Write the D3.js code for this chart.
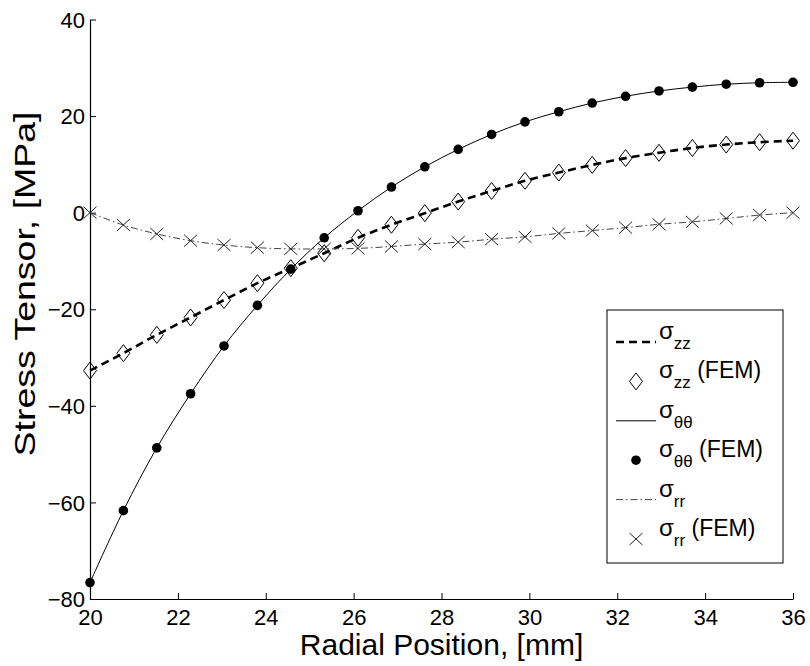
<!DOCTYPE html>
<html lang="en">
<head>
  <meta charset="UTF-8">
  <title>Stress Tensor</title>
  <script src="https://d3js.org/d3.v7.min.js"></script>
  <style>
    body { margin: 0; background: #fff; }
    svg text { font-family: "Liberation Sans", Arial, Helvetica, sans-serif; fill: #000; }
  </style>
</head>
<body>
  <svg id="chart" width="810" height="666"></svg>

  <script>
    // data
    const radius = [20.00, 20.76, 21.52, 22.29, 23.05, 23.81, 24.57, 25.33, 26.10, 26.86, 27.62,
                    28.38, 29.14, 29.90, 30.67, 31.43, 32.19, 32.95, 33.71, 34.48, 35.24, 36.00];
    const sigmaZZ = [-32.7, -29.1, -25.3, -21.7, -18.1, -14.6, -11.5, -8.4, -5.2, -2.5, -0.1,
                     2.3, 4.5, 6.6, 8.3, 9.9, 11.3, 12.4, 13.4, 14.1, 14.6, 14.9];
    const sigmaTT = [-76.6, -61.7, -48.7, -37.5, -27.6, -19.2, -11.7, -5.2, 0.4, 5.3, 9.5,
                     13.1, 16.2, 18.8, 20.9, 22.7, 24.1, 25.2, 26.0, 26.6, 26.9, 27.0];
    const sigmaRR = [0.0, -2.55, -4.4, -5.8, -6.7, -7.25, -7.5, -7.5, -7.4, -7.0, -6.5,
                     -6.1, -5.5, -5.0, -4.3, -3.7, -3.1, -2.4, -1.9, -1.2, -0.5, 0.0];
    const xTicks = [20, 22, 24, 26, 28, 30, 32, 34, 36];
    const yTicks = [-80, -60, -40, -20, 0, 20, 40];

    const svg = d3.select("#chart");
    const plotL = 90, plotR = 793, plotT = 19.5, plotB = 599;

    const x = d3.scaleLinear().domain([20, 36]).range([plotL, plotR]);
    const y = d3.scaleLinear().domain([-80, 40]).range([plotB, plotT]);

    // axes (ticks pointing inward, no box)
    const xAxis = svg.append("g")
      .attr("transform", `translate(0,${plotB})`)
      .call(d3.axisBottom(x).tickValues(xTicks).tickSizeInner(-6).tickSizeOuter(0).tickPadding(10));
    const yAxis = svg.append("g")
      .attr("transform", `translate(${plotL},0)`)
      .call(d3.axisLeft(y).tickValues(yTicks).tickSizeInner(-6).tickSizeOuter(0).tickPadding(5)
        .tickFormat(d => d < 0 ? "\u2212" + Math.abs(d) : d));

    [xAxis, yAxis].forEach(g => {
      g.select(".domain").attr("stroke", "#000").attr("stroke-width", 1.2);
      g.selectAll(".tick line").attr("stroke", "#000").attr("stroke-width", 1);
      g.selectAll(".tick text").attr("font-size", 22).attr("font-family", "Liberation Sans, Arial, sans-serif").attr("fill", "#000");
    });
    xAxis.selectAll(".tick text").attr("y", 10).attr("dy", "0.71em");
    yAxis.selectAll(".tick text").attr("dy", "0.35em");

    // axis titles
    svg.append("text")
      .attr("x", (plotL + plotR) / 2).attr("y", 655)
      .attr("text-anchor", "middle").attr("font-size", 30)
      .text("Radial Position, [mm]");
    svg.append("text")
      .attr("transform", "translate(35,284) rotate(-90)")
      .attr("text-anchor", "middle").attr("font-size", 30)
      .attr("textLength", 345).attr("lengthAdjust", "spacingAndGlyphs")
      .text("Stress Tensor, [MPa]");

    const pts = vals => radius.map((r, i) => [r, vals[i]]);
    const line = d3.line().x(d => x(d[0])).y(d => y(d[1])).curve(d3.curveCatmullRom);

    const styles = {
      zz: { stroke: "#000", width: 2.6, dash: "8,5" },
      tt: { stroke: "#000", width: 1, dash: null },
      rr: { stroke: "#444", width: 1, dash: "7,3,1.5,3" }
    };

    function drawLine(vals, s) {
      svg.append("path")
        .datum(pts(vals))
        .attr("fill", "none")
        .attr("stroke", s.stroke)
        .attr("stroke-width", s.width)
        .attr("stroke-dasharray", s.dash)
        .attr("d", line);
    }

    const diamond = (g, cx, cy) => g.append("path")
      .attr("d", `M${cx},${cy - 8.5}L${cx + 6.5},${cy}L${cx},${cy + 8.5}L${cx - 6.5},${cy}Z`)
      .attr("fill", "none").attr("stroke", "#000").attr("stroke-width", 1);
    const dot = (g, cx, cy) => g.append("circle")
      .attr("cx", cx).attr("cy", cy).attr("r", 4.8).attr("fill", "#000");
    const cross = (g, cx, cy) => g.append("path")
      .attr("d", `M${cx - 6.5},${cy - 6}L${cx + 6.5},${cy + 6}M${cx - 6.5},${cy + 6}L${cx + 6.5},${cy - 6}`)
      .attr("fill", "none").attr("stroke", "#222").attr("stroke-width", 1);

    function drawMarkers(vals, marker) {
      const g = svg.append("g");
      pts(vals).forEach(d => marker(g, x(d[0]), y(d[1])));
    }

    drawLine(sigmaZZ, styles.zz);
    drawMarkers(sigmaZZ, diamond);
    drawLine(sigmaTT, styles.tt);
    drawMarkers(sigmaTT, dot);
    drawLine(sigmaRR, styles.rr);
    drawMarkers(sigmaRR, cross);

    // legend
    const lg = svg.append("g");
    lg.append("rect")
      .attr("x", 607).attr("y", 310).attr("width", 176).attr("height", 253)
      .attr("fill", "#fff").attr("stroke", "#000").attr("stroke-width", 1);

    const entries = [
      { sub: "zz", fem: false, style: styles.zz },
      { sub: "zz", fem: true, marker: diamond },
      { sub: "\u03b8\u03b8", fem: false, style: styles.tt },
      { sub: "\u03b8\u03b8", fem: true, marker: dot },
      { sub: "rr", fem: false, style: styles.rr },
      { sub: "rr", fem: true, marker: cross }
    ];

    entries.forEach((e, i) => {
      const cy = 342 + i * 39.4;
      if (e.style) {
        lg.append("line")
          .attr("x1", 616).attr("x2", 656).attr("y1", cy).attr("y2", cy)
          .attr("stroke", e.style.stroke).attr("stroke-width", e.style.width)
          .attr("stroke-dasharray", e.style.dash);
      } else {
        e.marker(lg, 636, cy);
      }
      const t = lg.append("text").attr("x", 659).attr("y", cy - 3).attr("font-size", 24);
      t.append("tspan").text("\u03c3");
      t.append("tspan").attr("dy", 10).attr("font-size", 17).text(e.sub);
      if (e.fem) t.append("tspan").attr("dy", -10).attr("font-size", 23).text(" (FEM)");
    });
  </script>
</body>
</html>
